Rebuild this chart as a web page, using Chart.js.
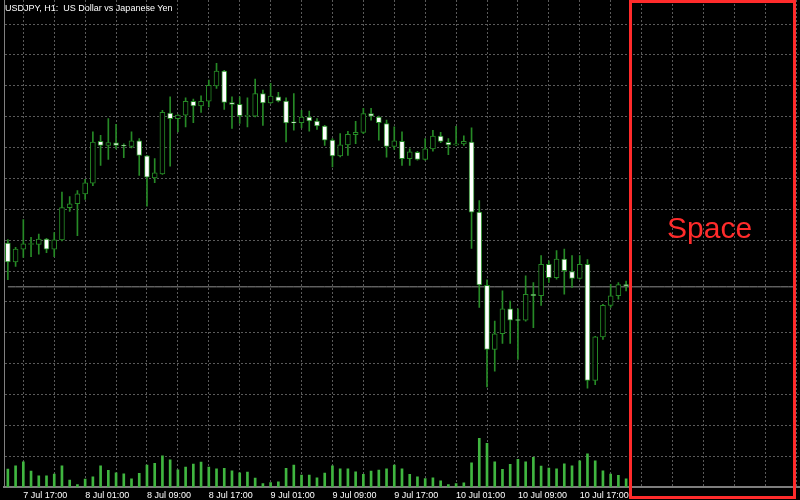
<!DOCTYPE html>
<html>
<head>
<meta charset="utf-8">
<title>USDJPY H1</title>
<script src="https://cdn.jsdelivr.net/npm/chart.js@4.4.1/dist/chart.umd.min.js"></script>
<style>
  html, body { margin: 0; padding: 0; background: #000; }
  #wrap { position: relative; width: 800px; height: 500px; overflow: hidden; }
  #title { position: absolute; left: 5px; top: 4px; color: #fff; font: 9px 'Liberation Sans', Arial, sans-serif; line-height: 9px; white-space: pre; }
  #shift { position: absolute; left: 629px; top: 0; width: 167px; height: 499px; box-sizing: border-box; border: 3px solid #ff2b2b; }
  #spaceLabel { position: absolute; left: 667px; top: 213px; color: #ff2b2b; font: 30px 'Liberation Sans', Arial, sans-serif; line-height: 30px; }
</style>
</head>
<body>
<div id="wrap">
  <canvas id="chart" width="800" height="500"></canvas>
  <div id="title">USDJPY, H1:  US Dollar vs Japanese Yen</div>
  <div id="shift"></div>
  <div id="spaceLabel">Space</div>
</div>
<script>
// hourly bars from 7 Jul 15:00, then empty slots (chart shift)
const tickLabels = ['7 Jul 17:00', '8 Jul 01:00', '8 Jul 09:00', '8 Jul 17:00', '9 Jul 01:00',
  '9 Jul 09:00', '9 Jul 17:00', '10 Jul 01:00', '10 Jul 09:00', '10 Jul 17:00'];

const opens = [
  101.391, 101.330, 101.371, 101.386, 101.386, 101.404, 101.371, 101.401, 101.505, 101.518,
  101.550, 101.585, 101.720, 101.707, 101.715, 101.707, 101.704, 101.722, 101.673, 101.602,
  101.615, 101.812, 101.794, 101.805, 101.850, 101.835, 101.850, 101.900, 101.948, 101.846,
  101.840, 101.801, 101.802, 101.875, 101.845, 101.864, 101.851, 101.781, 101.781, 101.799,
  101.786, 101.770, 101.724, 101.673, 101.709, 101.742, 101.749, 101.810, 101.799, 101.778,
  101.704, 101.720, 101.664, 101.685, 101.662, 101.696, 101.737, 101.717, 101.709, 101.712,
  101.718, 101.491, 101.254, 101.046, 101.097, 101.178, 101.141, 101.141, 101.225, 101.220,
  101.322, 101.279, 101.339, 101.298, 101.276, 101.322, 100.946, 101.087, 101.189, 101.220,
  101.255
];
const highs = [
  101.402, 101.377, 101.467, 101.409, 101.420, 101.406, 101.425, 101.556, 101.541, 101.561,
  101.597, 101.751, 101.740, 101.794, 101.775, 101.712, 101.751, 101.729, 101.675, 101.664,
  101.821, 101.864, 101.807, 101.861, 101.857, 101.868, 101.919, 101.973, 101.950, 101.864,
  101.864, 101.861, 101.922, 101.886, 101.908, 101.879, 101.861, 101.875, 101.821, 101.818,
  101.794, 101.772, 101.729, 101.745, 101.753, 101.785, 101.827, 101.827, 101.802, 101.789,
  101.767, 101.751, 101.696, 101.688, 101.729, 101.756, 101.749, 101.729, 101.769, 101.738,
  101.764, 101.528, 101.272, 101.138, 101.236, 101.203, 101.178, 101.285, 101.263, 101.350,
  101.333, 101.366, 101.371, 101.350, 101.350, 101.337, 101.089, 101.192, 101.257, 101.263,
  101.268
];
const lows = [
  101.272, 101.315, 101.344, 101.347, 101.355, 101.360, 101.347, 101.398, 101.493, 101.415,
  101.532, 101.577, 101.642, 101.662, 101.696, 101.667, 101.699, 101.610, 101.510, 101.586,
  101.613, 101.640, 101.751, 101.767, 101.781, 101.814, 101.832, 101.892, 101.824, 101.762,
  101.778, 101.767, 101.799, 101.772, 101.843, 101.848, 101.718, 101.756, 101.764, 101.753,
  101.759, 101.707, 101.637, 101.670, 101.675, 101.713, 101.745, 101.789, 101.724, 101.669,
  101.694, 101.642, 101.642, 101.659, 101.659, 101.688, 101.716, 101.677, 101.707, 101.707,
  101.373, 101.182, 100.925, 100.976, 101.066, 101.066, 101.014, 101.138, 101.117, 101.189,
  101.263, 101.274, 101.225, 101.247, 101.274, 100.921, 100.932, 101.079, 101.182, 101.209,
  101.236
];
const closes = [
  101.330, 101.371, 101.388, 101.389, 101.404, 101.371, 101.401, 101.506, 101.518, 101.550,
  101.586, 101.718, 101.707, 101.716, 101.707, 101.705, 101.722, 101.675, 101.604, 101.618,
  101.814, 101.794, 101.805, 101.850, 101.835, 101.850, 101.902, 101.948, 101.846, 101.840,
  101.803, 101.803, 101.875, 101.845, 101.867, 101.851, 101.780, 101.780, 101.799, 101.786,
  101.770, 101.724, 101.673, 101.709, 101.743, 101.749, 101.810, 101.802, 101.781, 101.704,
  101.722, 101.664, 101.686, 101.662, 101.696, 101.737, 101.720, 101.709, 101.711, 101.720,
  101.491, 101.255, 101.046, 101.097, 101.178, 101.141, 101.140, 101.225, 101.220, 101.322,
  101.279, 101.339, 101.301, 101.276, 101.322, 100.946, 101.087, 101.189, 101.220, 101.256,
  101.253
];
const volumes = [
  1800, 2130, 2530, 1600, 1130, 1130, 1300, 2130, 700, 270,
  800, 1030, 2130, 1670, 1430, 1330, 830, 1370, 2200, 2370,
  3130, 2730, 1730, 2000, 2300, 2500, 2000, 1830, 1870, 1630,
  1430, 1500, 900, 370, 470, 530, 1870, 2200, 1200, 1200,
  930, 1400, 2130, 1830, 1830, 1530, 1270, 1600, 1700, 1830,
  2200, 1830, 1270, 1030, 870, 930, 630, 270, 370, 430,
  2430, 4870, 4370, 2530, 1770, 2270, 2770, 2530, 2970, 2100,
  1900, 1830, 2330, 2130, 2630, 3330, 2630, 1630, 1300, 1170,
  830
];
const bid = 101.249;
const slotCount = 103;   // 81 bars + empty shift area

const barColor = 'rgb(38,138,38)';
const volColor = 'rgb(64,182,64)';
const gridColor = '#5a5a5a';

const labels = Array.from({ length: slotCount }, (_, i) => String(i));

new Chart(document.getElementById('chart'), {
  data: {
    labels,
    datasets: [
      {
        type: 'bar',
        order: 0,
        data: opens.map((o, i) => [o, closes[i]]),
        backgroundColor: opens.map((o, i) => (closes[i] >= o ? '#000' : '#fff')),
        borderColor: barColor,
        borderWidth: 1,
        borderSkipped: false,
        barThickness: 5,
        minBarLength: 1,
        grouped: false
      },
      {
        type: 'bar',
        order: 1,
        data: lows.map((l, i) => [l, highs[i]]),
        backgroundColor: barColor,
        borderWidth: 0,
        barThickness: 1,
        grouped: false
      },
      {
        type: 'bar',
        order: 2,
        yAxisID: 'yv',
        data: volumes,
        backgroundColor: volColor,
        borderWidth: 0,
        barThickness: 2,
        grouped: false
      },
      {
        type: 'line',
        order: 3,
        data: labels.map(() => bid),
        borderColor: '#8c8c8c',
        borderWidth: 1,
        pointRadius: 0
      }
    ]
  },
  options: {
    responsive: false,
    animation: false,
    layout: { padding: { left: 4, right: 0, top: 0, bottom: -4 } },
    plugins: { legend: { display: false }, tooltip: { enabled: false } },
    scales: {
      x: {
        type: 'category',
        offset: true,
        grid: {
          offset: false,
          drawTicks: false,
          color: ctx => (ctx.index % 4 === 2 ? gridColor : 'transparent')
        },
        border: { color: '#7d7d7d', width: 2, dash: [2, 2] },
        ticks: {
          autoSkip: false,
          maxRotation: 0,
          minRotation: 0,
          align: 'start',
          padding: 3,
          color: '#fff',
          font: { family: 'Liberation Sans', size: 9 },
          callback: (v, i) => {
            const k = (i - 2) / 8;
            return Number.isInteger(k) && k >= 0 && k < tickLabels.length ? tickLabels[k] : '';
          }
        }
      },
      y: {
        position: 'left',
        min: 100.6,
        max: 102.178,
        ticks: { display: false, stepSize: 0.1 },
        grid: { color: gridColor, drawTicks: false },
        border: { color: '#808080', width: 1, dash: [2, 2] },
        afterBuildTicks: scale => {
          scale.ticks = scale.ticks.filter(t => Math.abs(t.value * 10 - Math.round(t.value * 10)) < 1e-6);
        }
      },
      yv: {
        display: false,
        min: 0,
        max: 48500
      }
    }
  }
});
</script>
</body>
</html>
